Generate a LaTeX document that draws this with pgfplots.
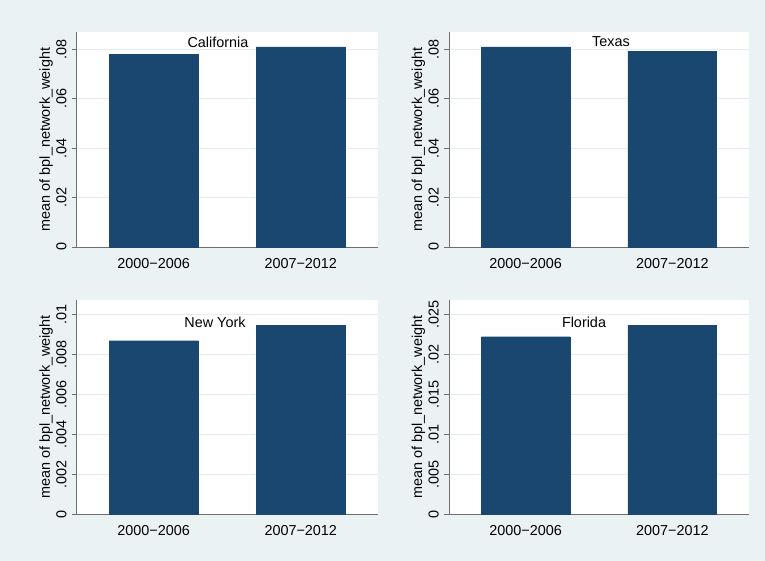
\documentclass[border=0pt]{standalone}
\usepackage{fontspec}
\setmainfont{Liberation Sans}
\usepackage{pgfplots}
\pgfplotsset{compat=1.18}
\definecolor{bgc}{HTML}{EAF2F3}
\definecolor{barc}{HTML}{1A476F}
\definecolor{gridc}{HTML}{E3ECEE}
\definecolor{axc}{HTML}{6E6E6E}
\newcommand{\fs}{\fontsize{14.4}{17}\selectfont}
\pgfplotsset{
 statapanel/.style={
  scale only axis, width=301pt, height=215pt, anchor=south west,
  axis x line*=bottom, axis y line*=left,
  axis line style={axc, line width=0.9pt, -},
  axis background/.style={fill=white},
  xmin=-0.523, xmax=1.523, xtick={0,1}, xticklabels={2000−2006,2007−2012},
  xtick style={draw=none}, ymin=0,
  scaled y ticks=false,
  tick align=outside, major tick length=5pt,
  ytick style={axc, line width=0.9pt},
  ymajorgrids, grid style={gridc, line width=0.9pt},
  every tick label/.append style={font=\fs},
  yticklabel style={rotate=90, anchor=south, inner sep=0pt},
  yticklabel shift=5pt,
  xticklabel style={inner sep=0pt, yshift=-6pt},
  ylabel={mean of bpl\_network\_weight},
  ylabel style={font=\fs},
  clip=false,
 },
 statabar/.style={ybar, fill=barc, draw=barc, bar width=0.605, bar shift=0pt},
}
\begin{document}
\begin{tikzpicture}[x=1pt,y=1pt]
\fill[bgc] (0,0) rectangle (765,561);
\useasboundingbox (0,0) rectangle (765,561);
% California
\begin{axis}[statapanel, at={(76.7pt,314pt)}, ymax=0.087,
  ytick={0,0.02,0.04,0.06,0.08}, yticklabels={0,.02,.04,.06,.08}]
\addplot[statabar] coordinates {(0,0.0780) (1,0.0810)};
\end{axis}
% Texas
\begin{axis}[statapanel, at={(449pt,314pt)}, width=300pt, ymax=0.087,
  ytick={0,0.02,0.04,0.06,0.08}, yticklabels={0,.02,.04,.06,.08}]
\addplot[statabar] coordinates {(0,0.0810) (1,0.0793)};
\end{axis}
% New York
\begin{axis}[statapanel, at={(76.7pt,47pt)}, height=214pt, ymax=0.01072,
  ytick={0,0.002,0.004,0.006,0.008,0.01}, yticklabels={0,.002,.004,.006,.008,.01}]
\addplot[statabar] coordinates {(0,0.00868) (1,0.00946)};
\end{axis}
% Florida
\begin{axis}[statapanel, at={(449pt,47pt)}, width=300pt, height=214pt, ymax=0.0268,
  ytick={0,0.005,0.01,0.015,0.02,0.025}, yticklabels={0,.005,.01,.015,.02,.025}]
\addplot[statabar] coordinates {(0,0.0222) (1,0.02366)};
\end{axis}
\node[font=\fs] at (218,519) {California};
\node[font=\fs] at (611,519) {Texas};
\node[font=\fs] at (215,239) {New York};
\node[font=\fs] at (584,239) {Florida};
\end{tikzpicture}
\end{document}
